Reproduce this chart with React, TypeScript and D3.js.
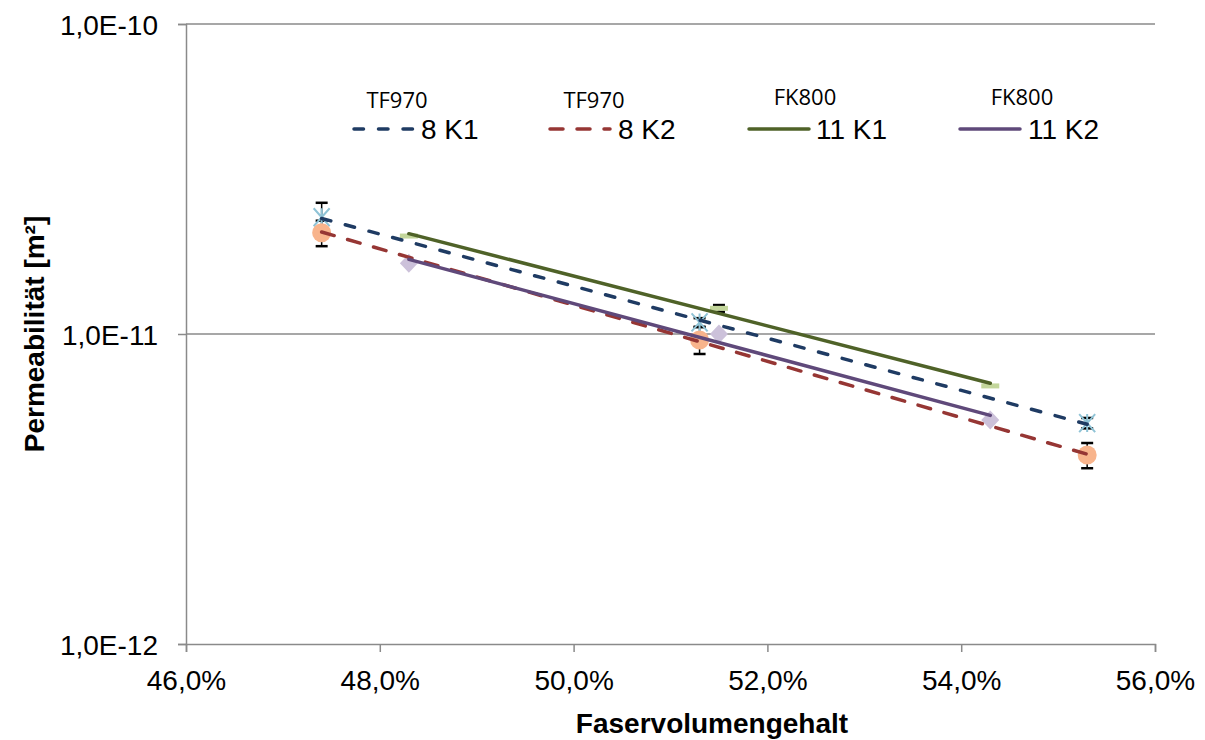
import React, { useEffect, useRef } from "react"
import * as d3 from "d3"

const xTicks = [0.46, 0.48, 0.5, 0.52, 0.54, 0.56]
const yTicks = [1e-12, 1e-11, 1e-10]

const seriesNames = ["8 K1", "8 K2", "11 K1", "11 K2"]
const seriesGroups = ["TF970", "TF970", "FK800", "FK800"]

const x_8K1 = [0.474, 0.513, 0.553]
const y_8K1 = [2.38e-11, 1.09e-11, 5.16e-12]
const err_8K1 = [2.7e-12, 3.5e-13, 2.0e-13]

const x_8K2 = [0.474, 0.513, 0.553]
const y_8K2 = [2.12e-11, 9.57e-12, 4.07e-12]
const err_8K2 = [2.0e-12, 9.5e-13, 3.8e-13]

const x_11K1 = [0.483, 0.515, 0.543]
const y_11K1 = [2.07e-11, 1.21e-11, 6.8e-12]
const err_11K1 = [0, 3e-13, 0]

const x_11K2 = [0.483, 0.515, 0.543]
const y_11K2 = [1.69e-11, 1.0e-11, 5.28e-12]
const err_11K2 = [0, 0, 0]

const W = 1205
const H = 740
const margin = { top: 24, right: 50, bottom: 96, left: 186 }
const FONT = "Liberation Sans, Arial, sans-serif"

export default function App() {
  const ref = useRef<SVGSVGElement>(null)

  useEffect(() => {
    const svg = d3.select(ref.current)
    svg.selectAll("*").remove()

    const x = d3.scaleLinear().domain([0.46, 0.56]).range([margin.left, W - margin.right])
    const y = d3.scaleLog().domain([1e-12, 1e-10]).range([H - margin.bottom, margin.top])

    const series = [
      { xs: x_8K1, ys: y_8K1, err: err_8K1, line: "#1f3b63", dash: "9.5,15", marker: "star", mcol: "#8fc3d6" },
      { xs: x_8K2, ys: y_8K2, err: err_8K2, line: "#963634", dash: "13,14", marker: "circle", mcol: "#f8b48c" },
      { xs: x_11K1, ys: y_11K1, err: err_11K1, line: "#4f6228", dash: null, marker: "dash", mcol: "#c3d69b" },
      { xs: x_11K2, ys: y_11K2, err: err_11K2, line: "#5f497a", dash: null, marker: "diamond", mcol: "#ccc1da" },
    ]

    // gridlines
    svg.append("g")
      .selectAll("line")
      .data(yTicks.slice(1))
      .join("line")
      .attr("x1", margin.left)
      .attr("x2", W - margin.right)
      .attr("y1", d => y(d))
      .attr("y2", d => y(d))
      .attr("stroke", "#8a8a8a")
      .attr("stroke-width", 1.5)

    const xAxis = svg.append("g")
      .attr("transform", `translate(0,${H - margin.bottom})`)
      .call(d3.axisBottom(x).tickValues(xTicks).tickSize(8).tickFormat(d => d3.format(".1f")(+d * 100).replace(".", ",") + "%"))
    xAxis.select(".domain").attr("stroke", "#8a8a8a").attr("stroke-width", 1.5)
    xAxis.selectAll(".tick line").attr("stroke", "#8a8a8a").attr("stroke-width", 1.5)
    xAxis.selectAll("text")
      .attr("font-family", FONT)
      .attr("font-size", 28)
      .attr("fill", "#000")
      .attr("y", 26)

    const yAxis = svg.append("g")
      .attr("transform", `translate(${margin.left},0)`)
      .call(d3.axisLeft(y).tickValues(yTicks).tickSize(8).tickFormat(d => {
        const e = Math.round(Math.log10(+d))
        return `1,0E${e}`
      }))
    yAxis.select(".domain").attr("stroke", "#8a8a8a").attr("stroke-width", 1.5)
    yAxis.selectAll(".tick line").attr("stroke", "#8a8a8a").attr("stroke-width", 1.5)
    yAxis.selectAll("text")
      .attr("font-family", FONT)
      .attr("font-size", 28)
      .attr("fill", "#000")
      .attr("x", -28)
      .attr("dy", "0.38em")

    // axis titles
    svg.append("text")
      .attr("x", 712)
      .attr("y", 733)
      .attr("text-anchor", "middle")
      .attr("font-family", FONT)
      .attr("font-weight", "bold")
      .attr("font-size", 28)
      .text("Faservolumengehalt")
    svg.append("text")
      .attr("transform", `translate(44,${y(1e-11)}) rotate(-90)`)
      .attr("text-anchor", "middle")
      .attr("font-family", FONT)
      .attr("font-weight", "bold")
      .attr("font-size", 28)
      .text("Permeabilität [m²]")

    // error bars
    series.forEach(s => {
      const g = svg.append("g").attr("stroke", "#000").attr("stroke-width", 1.5)
      s.xs.forEach((xv, i) => {
        if (!s.err[i]) return
        const y0 = y(s.ys[i] - s.err[i])
        const y1 = y(s.ys[i] + s.err[i])
        g.append("line").attr("x1", x(xv)).attr("x2", x(xv)).attr("y1", y0).attr("y2", y1)
        g.append("line").attr("x1", x(xv) - 6).attr("x2", x(xv) + 6).attr("y1", y0).attr("y2", y0).attr("stroke-width", 2.5)
        g.append("line").attr("x1", x(xv) - 6).attr("x2", x(xv) + 6).attr("y1", y1).attr("y2", y1).attr("stroke-width", 2.5)
      })
    })

    // markers
    series.forEach(s => {
      const g = svg.append("g")
      s.xs.forEach((xv, i) => {
        const cx = x(xv)
        const cy = y(s.ys[i])
        if (s.marker === "circle") {
          g.append("circle").attr("cx", cx).attr("cy", cy).attr("r", 9.5).attr("fill", s.mcol)
        } else if (s.marker === "diamond") {
          g.append("path").attr("d", `M${cx},${cy - 9.5}L${cx + 9},${cy}L${cx},${cy + 9.5}L${cx - 9},${cy}Z`).attr("fill", s.mcol)
        } else if (s.marker === "dash") {
          g.append("rect").attr("x", cx - 9).attr("y", cy - 2.5).attr("width", 18).attr("height", 5).attr("fill", s.mcol)
        } else {
          g.append("path")
            .attr("d", `M${cx - 8},${cy - 9}L${cx + 8},${cy + 9}M${cx - 8},${cy + 9}L${cx + 8},${cy - 9}M${cx},${cy - 9}L${cx},${cy + 9}`)
            .attr("stroke", s.mcol)
            .attr("stroke-width", 2)
            .attr("fill", "none")
        }
      })
    })

    // exponential trend lines (least squares on log values)
    series.forEach(s => {
      const ly = s.ys.map(v => Math.log10(v))
      const mx = d3.mean(s.xs) as number
      const my = d3.mean(ly) as number
      const b = d3.sum(s.xs, (v, i) => (v - mx) * (ly[i] - my)) / d3.sum(s.xs, v => (v - mx) ** 2)
      const a = my - b * mx
      const x0 = d3.min(s.xs) as number
      const x1 = d3.max(s.xs) as number
      const l = svg.append("line")
        .attr("x1", x(x0))
        .attr("x2", x(x1))
        .attr("y1", y(Math.pow(10, a + b * x0)))
        .attr("y2", y(Math.pow(10, a + b * x1)))
        .attr("stroke", s.line)
        .attr("stroke-width", 3.5)
        .attr("stroke-linecap", "round")
      if (s.dash) l.attr("stroke-dasharray", s.dash)
    })

    // legend
    const legendX = [354, 550, 749, 960]
    const textX = [421, 618, 816, 1028]
    const groupX = [397, 594, 805, 1022]
    seriesNames.forEach((name, i) => {
      const s = series[i]
      const l = svg.append("line")
        .attr("x1", legendX[i])
        .attr("x2", legendX[i] + 60)
        .attr("y1", 129)
        .attr("y2", 129)
        .attr("stroke", s.line)
        .attr("stroke-width", 3.5)
        .attr("stroke-linecap", "round")
      if (s.dash) l.attr("stroke-dasharray", s.dash)
      svg.append("text")
        .attr("x", textX[i])
        .attr("y", 139)
        .attr("font-family", FONT)
        .attr("font-size", 28)
        .text(name)
      svg.append("text")
        .attr("x", groupX[i])
        .attr("y", i < 2 ? 108 : 105)
        .attr("text-anchor", "middle")
        .attr("font-family", "Open Sans, sans-serif")
        .attr("font-size", 22)
        .text(seriesGroups[i])
    })
  }, [])

  return (
    <svg
      ref={ref}
      width={W}
      height={H}
      style={{ position: "absolute", left: 0, top: 0, background: "#fff" }}
    ></svg>
  )
}
